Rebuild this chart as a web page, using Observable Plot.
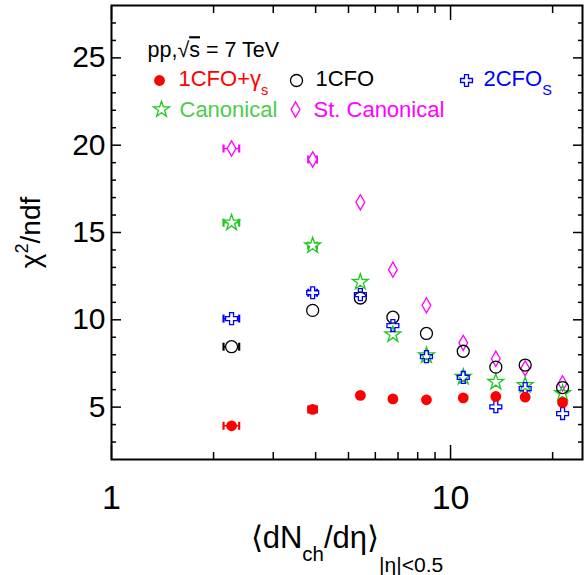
<!DOCTYPE html>
<html><head><meta charset="utf-8">
<script src="https://cdn.jsdelivr.net/npm/d3@7"></script>
<script src="https://cdn.jsdelivr.net/npm/@observablehq/plot@0.6"></script>
<style>
body{margin:0;background:#fff;}
#chart svg{display:block;font-family:"Liberation Sans",Arial,Helvetica,sans-serif;background:#fff;}
</style></head><body><div id="chart"></div>
<script>
// ---- data ----
const multiplicity = [2.26, 3.92, 5.42, 6.76, 8.49, 10.9, 13.6, 16.6, 21.4];
const multErr      = [0.12, 0.115, 0, 0, 0, 0, 0, 0, 0];
const chi1CFOgs      = [3.93, 4.87, 5.67, 5.47, 5.42, 5.53, 5.61, 5.57, 5.27];
const chi1CFO        = [8.46, 10.54, 11.25, 10.15, 9.22, 8.20, 7.29, 7.41, 6.12];
const chi2CFOs       = [10.07, 11.55, 11.44, 9.67, 7.89, 6.70, 5.02, 6.06, 4.63];
const chiCanonical   = [15.56, 14.25, 12.16, 9.16, 7.96, 6.72, 6.44, 6.25, 5.79];
const chiStCanonical = [19.81, 19.18, 16.73, 12.87, 10.83, 8.68, 7.77, 7.22, 6.36];
const xMajorTicks = [1, 10];
const xMinorTicks = [2, 3, 4, 5, 6, 7, 8, 9, 20];
const yMajorTicks = [5, 10, 15, 20, 25];
const yMinorTicks = [3, 4, 6, 7, 8, 9, 11, 12, 13, 14, 16, 17, 18, 19, 21, 22, 23, 24, 26, 27];
const headerText = "pp,√~{s} = 7 TeV";
const xTitle = "⟨dN_{ch}/dη⟩_[|η|<0.5]";
const yTitle = "χ^{2}/ndf";

// ---- styles / layout ----
const series = [
  {key: "stcan", label: "St. Canonical", values: chiStCanonical, color: "#ff00ff", textColor: "#ff00ff", symbol: "diamond", r: 4.6, filled: false, lx: 184, ly: 104, tx: 202, ty: 111},
  {key: "can", label: "Canonical", values: chiCanonical, color: "#1ec81e", textColor: "#4ccc4c", symbol: "star", r: 5, filled: false, lx: 50, ly: 104, tx: 68, ty: 111},
  {key: "1cfo", label: "1CFO", values: chi1CFO, color: "#000000", textColor: "#000000", symbol: "circle", r: 6, filled: false, lx: 185, ly: 75, tx: 204, ty: 80},
  {key: "2cfo", label: "2CFO_{S}", values: chi2CFOs, color: "#0000ff", textColor: "#0000ff", symbol: "cross", r: 5, filled: false, lx: 355, ly: 75, tx: 372, ty: 80},
  {key: "gs", label: "1CFO+γ_{s}", values: chi1CFOgs, color: "#ff0000", textColor: "#ff0000", symbol: "circle", r: 5.4, filled: true, lx: 48, ly: 75, tx: 67, ty: 80}
];
const W = 584, H = 575;
const M = {left: 111, right: 2, top: 5, bottom: 116};
const tickFont = 30, xTickFont = 34, legendFont = 22;

const capSymbol = {draw(ctx, size) { const r = Math.sqrt(size / Math.PI); ctx.moveTo(0, -r); ctx.lineTo(0, r); }};

const marks = [];
for (const s of series) {
  const rows = s.values.map((v, i) => ({x: multiplicity[i], e: multErr[i], y: v}));
  const errRows = rows.filter(d => d.e > 0);
  marks.push(Plot.ruleY(errRows, {y: "y", x1: d => d.x - d.e, x2: d => d.x + d.e, stroke: s.color, strokeWidth: 1.5}));
  marks.push(Plot.dot(errRows.flatMap(d => [{x: d.x - d.e, y: d.y}, {x: d.x + d.e, y: d.y}]), {x: "x", y: "y", symbol: capSymbol, r: 4, stroke: s.color, strokeWidth: 2.2}));
  // white underlay where an error bar passes behind an open marker
  if (!s.filled) marks.push(Plot.dot(errRows, {x: "x", y: "y", symbol: s.symbol, r: s.r, fill: "white", stroke: "none"}));
  marks.push(Plot.dot(rows, {x: "x", y: "y", symbol: s.symbol, r: s.r,
    fill: s.filled ? s.color : "none", stroke: s.filled ? "none" : s.color, strokeWidth: 1.3}));
  // legend
  marks.push(Plot.dot([0], {frameAnchor: "top-left", dx: s.lx, dy: s.ly, symbol: s.symbol, r: s.r,
    fill: s.filled ? s.color : "none", stroke: s.filled ? "none" : s.color, strokeWidth: 1.3}));
  marks.push(Plot.text([s.label], {frameAnchor: "top-left", dx: s.tx, dy: s.ty, text: d => d, textAnchor: "start", lineAnchor: "bottom", fill: s.textColor, fontSize: legendFont}));
}
marks.push(Plot.text([headerText], {frameAnchor: "top-left", dx: 36, dy: 51.7, text: d => d, textAnchor: "start", lineAnchor: "bottom", fill: "black", fontSize: 21.5}));

// ticks (inward)
const tk = {fill: "none", label: null, stroke: "black", strokeWidth: 1.5};
marks.push(
  Plot.axisX({...tk, ticks: xMajorTicks, anchor: "bottom", tickSize: -14}),
  Plot.axisX({...tk, ticks: xMinorTicks, anchor: "bottom", tickSize: -7}),
  Plot.axisX({...tk, ticks: xMajorTicks, anchor: "top", tickSize: -14}),
  Plot.axisX({...tk, ticks: xMinorTicks, anchor: "top", tickSize: -7}),
  Plot.axisY({...tk, ticks: yMajorTicks, anchor: "left", tickSize: -10}),
  Plot.axisY({...tk, ticks: yMinorTicks, anchor: "left", tickSize: -5}),
  Plot.axisY({...tk, ticks: yMajorTicks, anchor: "right", tickSize: -10}),
  Plot.axisY({...tk, ticks: yMinorTicks, anchor: "right", tickSize: -5})
);
// tick labels
marks.push(
  Plot.text(xMajorTicks, {x: d => d, frameAnchor: "bottom", dy: 49, text: d => String(d), lineAnchor: "bottom", textAnchor: "middle", fontSize: xTickFont, fill: "black"}),
  Plot.text(yMajorTicks, {y: d => d, frameAnchor: "left", dx: -6, text: d => String(d), lineAnchor: "middle", textAnchor: "end", fontSize: tickFont, fill: "black"})
);
// titles
marks.push(
  Plot.text([xTitle], {frameAnchor: "bottom", dy: 88, text: d => d, lineAnchor: "bottom", textAnchor: "middle", fontSize: 31, fill: "black"}),
  Plot.text([yTitle], {frameAnchor: "left", dx: -72, rotate: -90, text: d => d, lineAnchor: "bottom", textAnchor: "middle", fontSize: 28, fill: "black"})
);
marks.push(Plot.frame({stroke: "black", strokeWidth: 2}));

const chart = Plot.plot({
  width: W, height: H,
  marginLeft: M.left, marginRight: M.right, marginTop: M.top, marginBottom: M.bottom,
  x: {type: "log", domain: [1, 24.5]},
  y: {domain: [2, 28]},
  style: {fontFamily: '"Liberation Sans", Arial, Helvetica, sans-serif', background: "#fff"},
  marks
});
document.getElementById("chart").appendChild(chart);

// rich text: _{sub}, _[deep sub], ^{sup}, ~{overline}
function richify(svg) {
  const re = /(_\{[^}]*\}|_\[[^\]]*\]|\^\{[^}]*\}|~\{[^}]*\})/;
  svg.querySelectorAll("text").forEach(t => {
    const s = t.textContent;
    if (!re.test(s)) return;
    const fs = parseFloat(getComputedStyle(t).fontSize);
    const parts = s.split(new RegExp(re.source, "g")).filter(p => p !== "");
    t.textContent = "";
    let shift = 0;
    for (const p of parts) {
      const ts = document.createElementNS("http://www.w3.org/2000/svg", "tspan");
      let target = 0, size = null, txt = p, deco = null;
      if (p.startsWith("_{")) { target = 0.42 * fs; size = 0.66 * fs; txt = p.slice(2, -1); }
      else if (p.startsWith("_[")) { target = 0.8 * fs; size = 0.68 * fs; txt = p.slice(2, -1); }
      else if (p.startsWith("^{")) { target = -0.42 * fs; size = 0.65 * fs; txt = p.slice(2, -1); }
      else if (p.startsWith("~{")) { deco = "overline"; txt = p.slice(2, -1); }
      if (target - shift !== 0) ts.setAttribute("dy", target - shift);
      shift = target;
      if (size) ts.setAttribute("font-size", size);
      if (deco) ts.setAttribute("style", "text-decoration: overline");
      ts.textContent = txt;
      t.appendChild(ts);
    }
  });
}
richify(chart);
</script></body></html>
